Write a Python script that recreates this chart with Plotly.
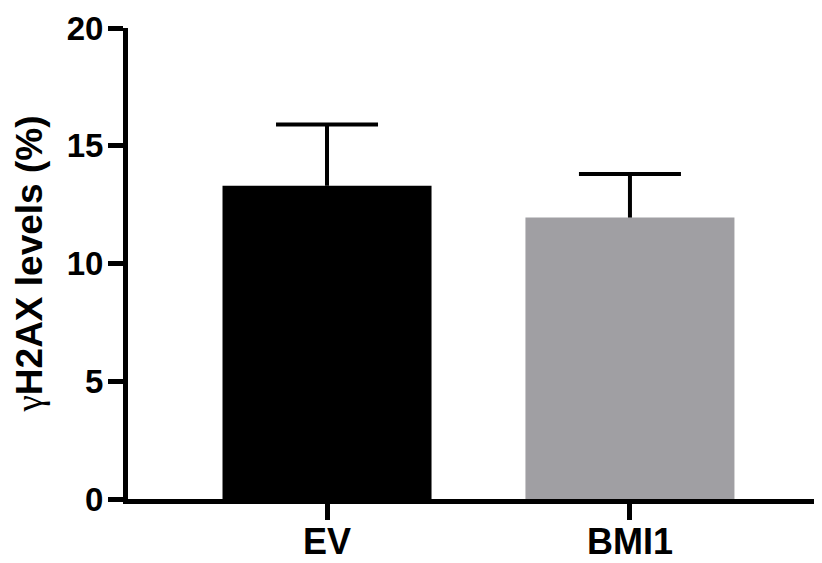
import plotly.graph_objects as go

categories = ["EV", "BMI1"]
means = [13.3, 11.95]
sem_upper = [2.6, 1.85]
bar_colors = ["#000000", "#a09fa3"]
y_tick_vals = [0, 5, 10, 15, 20]

err_tops = [m + e for m, e in zip(means, sem_upper)]

fig = go.Figure()
fig.add_trace(go.Bar(
    x=categories,
    y=means,
    marker=dict(color=bar_colors, line=dict(width=0)),
    width=0.69,
    error_y=dict(type="data", array=sem_upper, arrayminus=[0, 0], symmetric=False,
                 color="#000000", thickness=4, width=0),
    showlegend=False,
    hoverinfo="skip",
))
# caps of the error bars (top only)
fig.add_trace(go.Scatter(
    x=categories,
    y=err_tops,
    mode="markers",
    marker=dict(size=1, opacity=0),
    error_y=dict(type="data", array=[0, 0], arrayminus=[0, 0], symmetric=False,
                 color="#000000", thickness=4, width=51),
    showlegend=False,
    hoverinfo="skip",
))

font_family = "Liberation Sans, Arial, sans-serif"
# page body has an 8px default margin, so the figure is sized/placed to compensate
fig.update_layout(
    width=814, height=555,
    margin=dict(l=120, r=0, t=20, b=64),
    paper_bgcolor="white", plot_bgcolor="white",
    font=dict(family=font_family, color="#000000", size=33),
    xaxis=dict(
        range=[-0.657, 1.634],
        showline=True, linecolor="#000000", linewidth=5,
        ticks="outside", ticklen=16, tickwidth=5, tickcolor="#000000",
        tickfont=dict(size=36, weight="bold"),
        ticklabelstandoff=-9,
        showgrid=False, zeroline=False, automargin=False,
    ),
    yaxis=dict(
        range=[0, 20],
        tickvals=y_tick_vals,
        showline=True, linecolor="#000000", linewidth=5,
        ticks="outside", ticklen=15, tickwidth=5, tickcolor="#000000",
        tickfont=dict(size=33, weight="bold"),
        ticklabelstandoff=-2,
        showgrid=False, zeroline=False, automargin=False,
        title=dict(
            text="<span style=\"font-family:'Liberation Serif';font-weight:normal\">γ</span><b>H2AX levels (%)</b>",
            font=dict(size=37), standoff=14,
        ),
    ),
)

fig.write_html("out.html")
